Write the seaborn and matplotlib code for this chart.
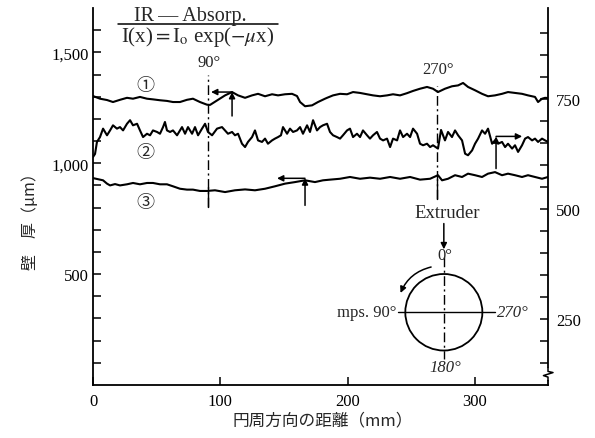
import matplotlib
matplotlib.use("Agg")
import matplotlib.pyplot as plt
import pandas as pd
import seaborn as sns
from matplotlib.lines import Line2D
from matplotlib.patches import Ellipse

# Wall thickness (µm) along the circumference (mm), three tubes
pos_1 = [0, 5.5, 11.0, 15.7, 21.2, 26.7, 31.4, 36.9, 42.4, 47.1, 52.6, 58.1, 62.8, 68.3, 73.8,
         78.5, 84.0, 89.5, 91.9, 98.2, 103.7, 109.2, 113.9, 119.4, 124.9, 129.6, 135.1, 140.6,
         145.3, 150.8, 156.3, 160.2, 162.6, 166.5, 172.0, 176.7, 182.2, 183.8, 188.5, 194.0,
         199.5, 204.2, 209.7, 215.2, 219.9, 225.4, 230.9, 235.6, 241.1, 246.6, 251.3, 256.8,
         262.3, 267.0, 270.9, 276.4, 281.9, 286.7, 290.6, 294.5, 300.0, 305.5, 310.2, 315.7,
         321.2, 325.9, 331.4, 336.9, 341.6, 347.1, 349.5, 352.6, 355.0, 357.3]
wall_1 = [1303, 1291, 1285, 1276, 1286, 1295, 1291, 1299, 1291, 1288, 1284, 1281, 1276, 1276,
          1286, 1291, 1276, 1264, 1263, 1286, 1306, 1321, 1306, 1295, 1306, 1313, 1302, 1311,
          1306, 1311, 1313, 1303, 1276, 1257, 1261, 1276, 1291, 1295, 1306, 1313, 1311, 1321,
          1317, 1311, 1306, 1302, 1306, 1311, 1306, 1316, 1326, 1336, 1344, 1336, 1321, 1336,
          1347, 1351, 1362, 1344, 1329, 1313, 1302, 1306, 1313, 1321, 1317, 1313, 1306, 1299,
          1276, 1291, 1295, 1294]

pos_2 = [0, 1.6, 3.1, 5.5, 7.9, 11.0, 13.4, 15.7, 18.8, 21.2, 23.6, 26.7, 29.1, 31.4, 34.6,
         36.9, 39.3, 42.4, 44.8, 47.1, 50.3, 52.6, 55.0, 56.5, 58.1, 60.5, 62.8, 66.0, 68.3,
         69.9, 72.3, 74.6, 77.8, 80.1, 82.5, 85.6, 88.0, 90.3, 93.5, 97.4, 101.3, 103.7, 106.0,
         109.2, 111.5, 113.9, 117.0, 119.4, 121.7, 124.9, 127.2, 129.6, 132.7, 135.1, 137.4,
         140.6, 142.9, 145.3, 147.6, 149.2, 152.4, 154.7, 157.1, 160.2, 162.6, 164.9, 168.1,
         170.4, 172.8, 175.9, 178.3, 180.6, 183.8, 186.1, 188.5, 191.6, 194.0, 196.3, 199.5,
         201.8, 204.2, 207.3, 209.7, 212.0, 215.2, 217.5, 219.9, 223.0, 225.4, 227.8, 230.9,
         233.3, 235.6, 238.8, 241.1, 243.5, 246.6, 249.0, 251.3, 254.5, 256.8, 259.2, 262.3,
         264.7, 267.0, 270.9, 273.3, 276.4, 278.8, 281.9, 284.3, 286.7, 289.8, 292.2, 294.5,
         297.7, 300.0, 302.4, 305.5, 307.9, 310.2, 313.4, 315.7, 318.1, 321.2, 323.6, 325.9,
         329.1, 331.4, 333.8, 336.9, 339.3, 341.6, 344.8, 347.1, 349.5, 352.6, 355.0, 357.3]
wall_2 = [1028, 1042, 1096, 1118, 1156, 1126, 1148, 1171, 1156, 1163,
          1148, 1178, 1194, 1171, 1178, 1148, 1118, 1133, 1126, 1148,
          1141, 1133, 1163, 1186, 1148, 1141, 1148, 1126, 1148, 1163,
          1133, 1163, 1133, 1163, 1126, 1156, 1178, 1141, 1126, 1156,
          1163, 1148, 1133, 1141, 1126, 1133, 1088, 1073, 1096, 1118,
          1148, 1103, 1096, 1111, 1088, 1103, 1111, 1118, 1126, 1163,
          1133, 1156, 1141, 1148, 1163, 1133, 1171, 1141, 1194, 1148,
          1163, 1171, 1178, 1141, 1126, 1118, 1111, 1126, 1148, 1156,
          1118, 1133, 1118, 1148, 1126, 1111, 1126, 1141, 1111, 1103,
          1111, 1073, 1111, 1103, 1148, 1118, 1133, 1118, 1156, 1133,
          1088, 1081, 1088, 1073, 1081, 1066, 1150, 1103, 1141, 1118,
          1148, 1126, 1103, 1043, 1036, 1058, 1088, 1111, 1148, 1133,
          1156, 1088, 1103, 1088, 1096, 1073, 1088, 1066, 1081, 1051,
          1081, 1111, 1118, 1103, 1111, 1096, 1111, 1103, 1096]

pos_3 = [0, 7.9, 11.0, 13.4, 17.3, 21.2, 26.7, 31.4, 36.9, 42.4, 47.1, 52.6, 58.1, 62.8, 68.3,
         73.8, 78.5, 84.0, 89.5, 95.8, 103.7, 111.5, 119.4, 127.2, 135.1, 142.9, 150.8, 158.6,
         166.5, 174.3, 180.6, 186.1, 194.0, 201.8, 209.7, 217.5, 225.4, 233.3, 241.1, 249.0,
         256.8, 264.7, 270.9, 274.1, 278.8, 284.3, 289.8, 294.5, 300.0, 305.5, 310.2, 315.7,
         321.2, 325.9, 331.4, 336.9, 341.6, 347.1, 352.6, 357.3]
wall_3 = [933, 923, 908, 900, 906, 900, 905, 911, 905, 911, 911, 905, 905, 896, 885, 881, 881,
          875, 875, 878, 870, 878, 882, 878, 885, 896, 908, 915, 923, 915, 923, 926, 930, 938,
          930, 935, 930, 938, 930, 938, 926, 930, 946, 923, 930, 946, 938, 953, 946, 938, 953,
          960, 946, 953, 946, 938, 946, 938, 930, 938]

sample_names = ["①", "②", "③"]
sample_label_pos = [(40.8, 1353), (40.8, 1051), (40.8, 825)]

# Left axis (µm) and right axis ticks
left_major = [500, 1000, 1500]
left_major_labels = ["500", "1,000", "1,500"]
left_minor = [100, 200, 300, 400, 600, 700, 800, 900, 1100, 1200, 1300, 1400, 1600]
right_major = [250, 500, 750]
right_minor = [150, 200, 300, 350, 400, 450, 550, 600, 650, 700, 800, 850, 900]
x_ticks = [0, 100, 200, 300]

# Marker arrows: (x, y) of the extreme spot on each curve, with tail lengths
spot_xy = [(109.2, 1321), (316.5, 1121), (166.5, 932)]
spot_dx = [-16.5, 20.5, -22.0]
spot_dy = [-108, -145, -122]

# Angular reference lines: angle (mm along circumference), y range
ref_pos = [90, 270]
ref_span = [(803, 1398), (839, 1350)]
ref_text = ["90°", "270°"]
ref_text_y = [1456, 1425]

sns.set_style("ticks")
plt.rcParams["font.family"] = ["Liberation Serif", "DejaVu Serif"]
plt.rcParams["mathtext.fontset"] = "stix"
CJK = ["Noto Sans CJK JP", "DejaVu Sans"]

fig = plt.figure(figsize=(5.95, 4.39), dpi=100)
ax = fig.add_axes([93 / 595, 53 / 439, 455 / 595, 377 / 439])

frames = [pd.DataFrame({"pos": p, "wall": w, "sample": n})
          for n, p, w in zip(sample_names, [pos_1, pos_2, pos_3], [wall_1, wall_2, wall_3])]
df = pd.concat(frames, ignore_index=True)
sns.lineplot(data=df, x="pos", y="wall", units="sample", estimator=None, sort=False,
             color="black", lw=1.5, legend=False, ax=ax)

ax.set_xlim(0, 357.3)
ax.set_ylim(0, 1700)
ax.set_xticks(x_ticks)
ax.set_xticklabels([str(t) for t in x_ticks])
ax.set_yticks(left_major)
ax.set_yticklabels(left_major_labels)
ax.set_yticks(left_minor, minor=True)
ax.tick_params(axis="both", which="both", direction="in", length=6, width=1.1,
               labelsize=12, colors="black")
ax.tick_params(axis="y", pad=3)
ax.tick_params(axis="x", pad=6)
ax.set_xlabel("")
ax.set_ylabel("")
for side in ["top", "right"]:
    ax.spines[side].set_visible(False)
for side in ["left", "bottom"]:
    ax.spines[side].set_linewidth(1.3)
    ax.spines[side].set_color("black")

ax2 = ax.twinx()
ax2.set_ylim(100, 957)
ax2.set_yticks(right_major)
ax2.set_yticklabels([str(t) for t in right_major])
ax2.set_yticks(right_minor, minor=True)
ax2.tick_params(axis="y", which="both", direction="in", length=6, width=1.1,
                labelsize=12, pad=6, colors="black")
for side in ["top", "left", "bottom"]:
    ax2.spines[side].set_visible(False)
ax2.spines["right"].set_linewidth(1.3)
ax2.spines["right"].set_color("black")

# axis break on the right scale
ax2.plot([1.0, 1.0], [0.018, 0.040], transform=ax2.transAxes, color="white", lw=3,
         clip_on=False, zorder=5)
ax2.plot([1.0, 1.0, 1.011, 0.99, 1.0, 1.0], [0.045, 0.036, 0.033, 0.025, 0.021, 0.012],
         transform=ax2.transAxes, color="black", lw=1.1, clip_on=False, zorder=6)

# sample numbers
for n, (sx, sy) in zip(sample_names, sample_label_pos):
    ax.text(sx, sy, n, family=CJK, fontsize=13, ha="center", va="center")

# reference lines for 90° and 270°
for xr, (y0, y1), t, ty in zip(ref_pos, ref_span, ref_text, ref_text_y):
    ax.plot([xr, xr], [y0, y1], color="black", lw=1.0, ls=(0, (7, 2.5, 1.5, 2.5)))
    ax.plot([xr, xr], [y0, y0 + 90], color="black", lw=1.0)
    ax.text(xr + 1, ty, t, fontsize=12, ha="center", va="center")

# arrows marking the extreme points
arrow_kw = dict(arrowstyle="-|>", color="black", lw=1.1, mutation_scale=9,
                shrinkA=0, shrinkB=0)
for (sx, sy), dx, dy in zip(spot_xy, spot_dx, spot_dy):
    ax.annotate("", xy=(sx + dx, sy), xytext=(sx, sy), arrowprops=arrow_kw)
    ax.annotate("", xy=(sx, sy), xytext=(sx, sy + dy), arrowprops=arrow_kw)

# formula in the upper left
fig.text(190 / 595, 1 - 17 / 439, "IR\u2009—\u2009Absorp.", fontsize=14.5, ha="center",
         va="center")
fig.add_artist(Line2D([118 / 595, 278 / 595], [1 - 25 / 439, 1 - 25 / 439],
                      color="black", lw=1.1))
fig.text(198 / 595, 1 - 37 / 439, r"I(x)$=$I$_{\mathrm{o}}$ exp($-\mu$x)", fontsize=15,
         ha="center", va="center")

# extruder and die sketch
cx, cy = 275.5, 328
ax.text(278, 780, "Extruder", fontsize=13.5, ha="center", va="center")
ax.annotate("", xy=(cx, 612), xytext=(cx, 728), arrowprops=arrow_kw)
ax.add_patch(Ellipse((cx, cy), 60.5, 345, fill=False, ec="black", lw=1.3))
ax.plot([239.5, 315.7], [cy, cy], color="black", lw=1.0)
ax.plot([cx, cx], [577, 118], color="black", lw=1.0, ls=(0, (7, 2.5, 1.5, 2.5)))
ax.text(cx + 1, 588, "0°", fontsize=12, ha="center", va="center")
ax.text(cx + 1, 80, "180°", fontsize=12, ha="center", va="center", style="italic")
ax.text(317.5, cy, "270°", fontsize=12, ha="left", va="center", style="italic")
ax.text(238, cy, "mps. 90°", fontsize=12, ha="right", va="center")
ax.annotate("", xy=(241.5, 415), xytext=(265.5, 532),
            arrowprops=dict(arrowstyle="-|>", color="black", lw=1.1, mutation_scale=9,
                            shrinkA=0, shrinkB=0, connectionstyle="arc3,rad=0.25"))

# axis titles
fig.text(30 / 595, 1 - 218 / 439, "壁　厚（μm）", family=CJK, fontsize=11.5, rotation=90,
         ha="center", va="center")
fig.text(323 / 595, 1 - 421 / 439, "円周方向の距離（mm）", family=CJK, fontsize=12,
         ha="center", va="center")

fig.savefig("out.png", dpi=100, facecolor="white")
